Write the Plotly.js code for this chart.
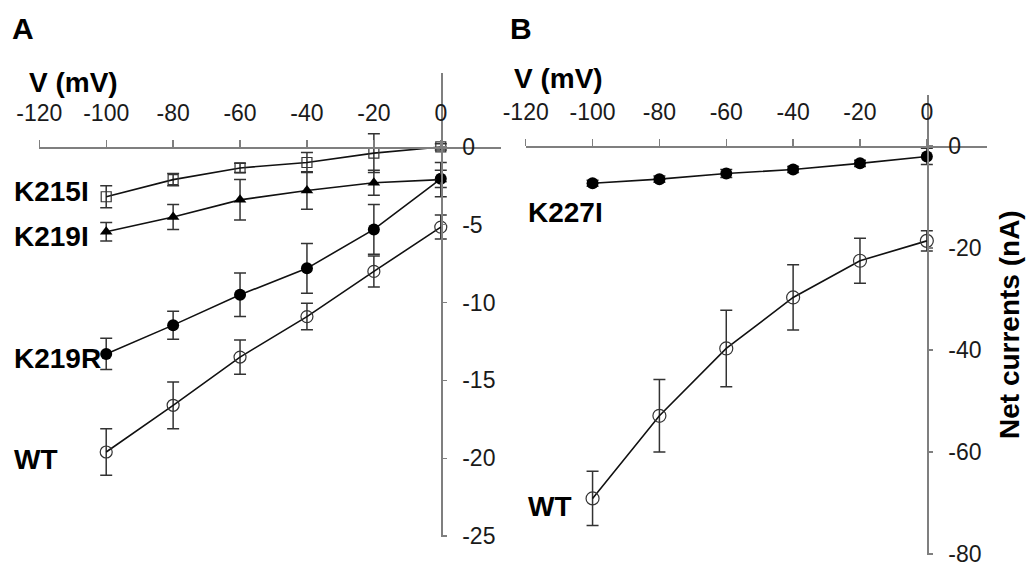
<!DOCTYPE html>
<html>
<head>
<meta charset="utf-8">
<script src="https://cdn.plot.ly/plotly-3.0.1.min.js"></script>
<style>html,body{margin:0;padding:0;background:#fff;}#chart{width:1030px;height:567px;}</style>
</head>
<body>
<div id="chart"></div>
<script>
// Voltages (mV)
const voltages = [-100, -80, -60, -40, -20, 0];
const xTicks = [-120, -100, -80, -60, -40, -20, 0];
const xTickText = ['-120', '-100', '-80', '-60', '-40', '-20', '0'];

// Panel A: net currents (nA) and error bars
const k215I = [-3.2, -2.1, -1.35, -1.0, -0.4, 0.0];
const k215IErr = [0.7, 0.4, 0.3, 0.65, 1.25, 0.2];
const k219I = [-5.45, -4.5, -3.4, -2.8, -2.3, -2.1];
const k219IErr = [0.6, 0.8, 1.3, 1.2, 0.8, 1.1];
const k219R = [-13.3, -11.45, -9.5, -7.8, -5.3, -2.05];
const k219RErr = [1.0, 0.9, 1.4, 1.6, 1.6, 0.55];
const wtA = [-19.6, -16.6, -13.5, -10.9, -8.0, -5.15];
const wtAErr = [1.5, 1.5, 1.1, 0.85, 1.0, 0.77];
const yTicksA = [0, -5, -10, -15, -20, -25];
const yTickTextA = ['0', '-5', '-10', '-15', '-20', '-25'];

// Panel B
const k227I = [-7.3, -6.5, -5.4, -4.6, -3.4, -2.05];
const k227IErr = [0.6, 0.6, 0.8, 0.6, 0.6, 1.6];
const wtB = [-69.1, -52.9, -39.7, -29.7, -22.5, -18.6];
const wtBErr = [5.3, 7.1, 7.5, 6.4, 4.4, 2.0];
const yTicksB = [0, -20, -40, -60, -80];
const yTickTextB = ['0', '-20', '-40', '-60', '-80'];

const W = 1030, H = 567;
const fx = p => p / W;
const fy = p => 1 - p / H;
const FONT = 'Liberation Sans, Arial, Helvetica, sans-serif';
const lineCol = '#111';
const errCol = '#333';

function trace(y, err, xa, ya, marker) {
  return {
    x: voltages, y: y, xaxis: xa, yaxis: ya, type: 'scatter', mode: 'lines+markers',
    line: {color: lineCol, width: 1.6},
    marker: marker,
    error_y: {type: 'data', array: err, visible: true, color: errCol, thickness: 1.5, width: 6},
    showlegend: false, hoverinfo: 'x+y', cliponaxis: false
  };
}

const data = [
  trace(wtA, wtAErr, 'x', 'y', {symbol: 'circle-open', size: 12, color: '#333', line: {width: 1.2, color: '#333'}}),
  trace(k219R, k219RErr, 'x', 'y', {symbol: 'circle', size: 12, color: '#000'}),
  trace(k219I, k219IErr, 'x', 'y', {symbol: 'triangle-up', size: 11, color: '#000'}),
  trace(k215I, k215IErr, 'x', 'y', {symbol: 'square-open', size: 10, color: '#333', line: {width: 1.2, color: '#333'}}),
  trace(wtB, wtBErr, 'x2', 'y2', {symbol: 'circle-open', size: 13, color: '#333', line: {width: 1.2, color: '#333'}}),
  trace(k227I, k227IErr, 'x2', 'y2', {symbol: 'circle', size: 12, color: '#000'})
];

const tickFont = {family: FONT, size: 23, color: '#1a1a1a'};
function xAxis(dom, pos) {
  return {
    domain: dom, range: [-120, 18], anchor: 'free', position: pos, side: 'top',
    tickmode: 'array', tickvals: xTicks, ticktext: xTickText, ticks: 'outside', ticklen: 7, tickwidth: 1.3, tickcolor: '#7f7f7f',
    ticklabelstandoff: 10, ticklabeloverflow: 'allow',
    showline: true, linecolor: '#7f7f7f', linewidth: 1.5, showgrid: false, zeroline: false,
    tickfont: tickFont, fixedrange: true
  };
}
function yAxis(dom, range, ticks, text, pos) {
  return {
    domain: dom, range: range, anchor: 'free', position: pos, side: 'right',
    tickmode: 'array', tickvals: ticks, ticktext: text, ticks: 'outside', ticklen: 4, tickwidth: 1.3, tickcolor: '#7f7f7f',
    ticklabelstandoff: 11, ticklabeloverflow: 'allow',
    showline: true, linecolor: '#7f7f7f', linewidth: 1.8, showgrid: false, zeroline: false,
    tickfont: tickFont, fixedrange: true
  };
}

const boldFont = {family: FONT, size: 28, color: '#000'};
function label(text, x, y, opts) {
  return Object.assign({
    text: '<b>' + text + '</b>', xref: 'paper', yref: 'paper', x: fx(x), y: fy(y),
    xanchor: 'left', yanchor: 'middle', showarrow: false, font: boldFont
  }, opts || {});
}

const layout = {
  width: W, height: H,
  margin: {l: 0, r: 0, t: 0, b: 0, pad: 0},
  paper_bgcolor: '#fff', plot_bgcolor: 'rgba(0,0,0,0)',
  showlegend: false,
  xaxis: xAxis([fx(39.3), fx(501)], fy(147)),
  yaxis: yAxis([fy(536.5), fy(73)], [-25.03, 4.75], yTicksA, yTickTextA, fx(440.8)),
  xaxis2: xAxis([fx(525.7), fx(987)], fy(146.3)),
  yaxis2: yAxis([fy(554.5), fy(95)], [-80.1, 10], yTicksB, yTickTextB, fx(926.9)),
  annotations: [
    label('A', 10, 29, {font: {family: FONT, size: 30, color: '#000'}}),
    label('B', 508, 29, {font: {family: FONT, size: 30, color: '#000'}}),
    label('V (mV)', 27, 82),
    label('V (mV)', 512, 78),
    label('K215I', 12, 191),
    label('K219I', 12, 236),
    label('K219R', 12, 358),
    label('WT', 12, 459),
    label('K227I', 526, 212),
    label('WT', 526, 506),
    label('Net currents (nA)', 1009, 325, {xanchor: 'center', textangle: -90})
  ]
};

Plotly.newPlot('chart', data, layout, {displayModeBar: false, staticPlot: true});
</script>
</body>
</html>
